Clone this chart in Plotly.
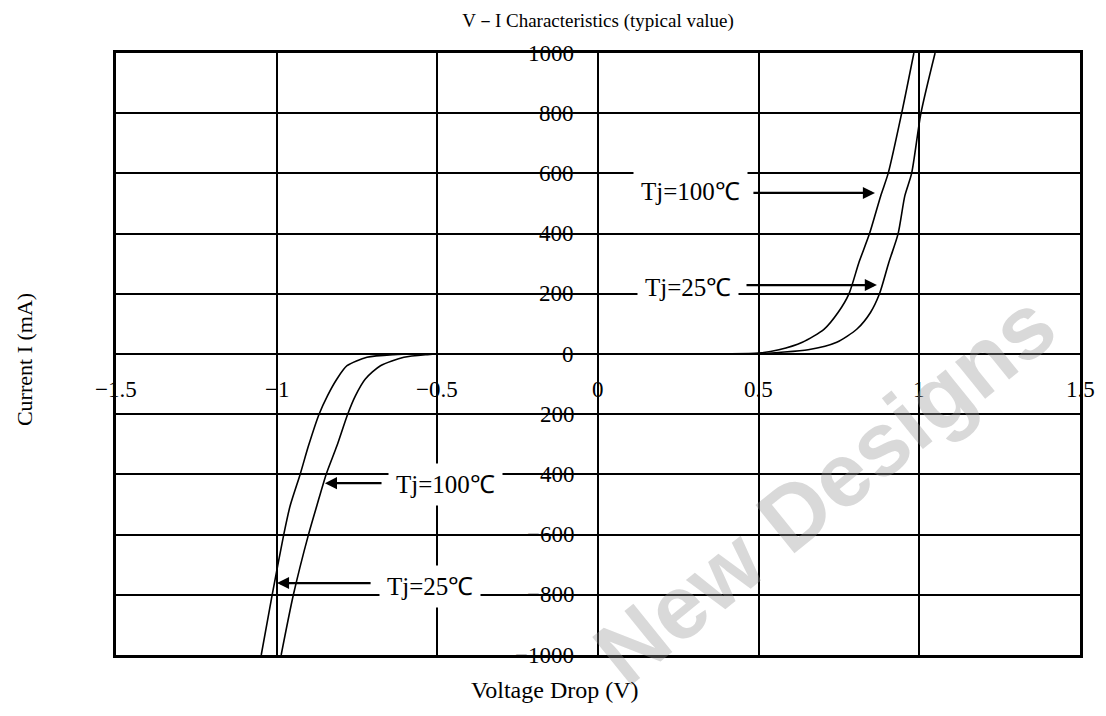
import plotly.graph_objects as go

# Tj = 25 degC curve (outer curve)
v_25 = [-1.048, -1.014, -0.978, -0.958, -0.927, -0.901, -0.868, -0.842, -0.8125, -0.781,
        -0.719, -0.636, -0.55, 0.0, 0.5, 0.563, 0.654, 0.743, 0.806, 0.848, 0.876, 0.905,
        0.934, 0.955, 0.976, 1.005, 1.049]
i_25 = [-1000, -800, -600, -504, -400, -305, -200, -139, -83, -39,
        -11, -2, 0, 0, 0, 5, 14, 39, 83, 138, 200, 304,
        400, 526, 600, 800, 1000]

# Tj = 100 degC curve (inner curve)
v_100 = [-0.986, -0.948, -0.901, -0.875, -0.846, -0.8125, -0.779, -0.755, -0.724, -0.677,
         -0.604, -0.531, -0.5, 0.0, 0.5, 0.563, 0.636, 0.704, 0.747, 0.781, 0.812, 0.845,
         0.88, 0.903, 0.945, 0.983]
i_100 = [-1000, -800, -600, -504, -400, -305, -200, -139, -83, -39,
         -11, -2, 0, 0, 3, 14, 39, 83, 138, 200, 304, 400,
         526, 600, 800, 1000]

x_ticks = [-1.5, -1.0, -0.5, 0.0, 0.5, 1.0, 1.5]
x_ticklabels = ["\u22121.5", "\u22121", "\u22120.5", "0", "0.5", "1", "1.5"]
y_ticks = [1000, 800, 600, 400, 200, 0, -200, -400, -600, -800, -1000]
y_ticklabels = ["1000", "800", "600", "400", "200", "0", "\u2212200", "\u2212400",
                "\u2212600", "\u2212800", "\u22121000"]

# curve labels: (text, label x, label y, arrow tail x, arrow tip x, arrow y)
labels = [
    ("Tj=100\u2103", 0.289, 541, 0.479, 0.862, 535),
    ("Tj=25\u2103", 0.280, 222, 0.4575, 0.868, 229),
    ("Tj=100\u2103", -0.476, -435, -0.669, -0.850, -429),
    ("Tj=25\u2103", -0.523, -774, -0.703, -0.999, -761),
]

SERIF = "Liberation Serif, Times New Roman, serif"

fig = go.Figure()
fig.add_trace(go.Scatter(x=v_25, y=i_25, mode="lines", name="Tj=25\u2103",
                         line=dict(color="black", width=1.6, shape="spline", smoothing=0.7)))
fig.add_trace(go.Scatter(x=v_100, y=i_100, mode="lines", name="Tj=100\u2103",
                         line=dict(color="black", width=1.6, shape="spline", smoothing=0.7)))

ann = []
for v, t in zip(x_ticks, x_ticklabels):
    ann.append(dict(x=v, y=0, xref="x", yref="y", text=t, showarrow=False,
                    xanchor="center", yanchor="middle", yshift=-35,
                    font=dict(family=SERIF, size=23, color="black")))
for v, t in zip(y_ticks, y_ticklabels):
    ann.append(dict(x=0, y=v, xref="x", yref="y", text=t, showarrow=False,
                    xanchor="right", yanchor="middle", xshift=-22,
                    font=dict(family=SERIF, size=23, color="black")))

for text, lx, ly, tail, tip, ay in labels:
    ann.append(dict(x=lx, y=ly, xref="x", yref="y", text=text, showarrow=False,
                    xanchor="center", yanchor="middle", bgcolor="white", borderpad=7,
                    font=dict(family=SERIF, size=25, color="black")))
    ann.append(dict(x=tip, y=ay, xref="x", yref="y", ax=tail, ay=ay, axref="x", ayref="y",
                    text="", showarrow=True, arrowhead=2, arrowsize=1.1, arrowwidth=2.2,
                    arrowcolor="black", standoff=0, startstandoff=0))

# watermark
ann.append(dict(x=0.735, y=0.275, xref="paper", yref="paper", text="<b>New Designs</b>",
                showarrow=False, textangle=-39, xanchor="center", yanchor="middle",
                font=dict(family="Liberation Sans, Arial, sans-serif", size=90,
                          color="rgba(150,150,150,0.36)")))

# axis titles
ann.append(dict(x=0.455, y=-0.058, xref="paper", yref="paper", text="Voltage Drop (V)",
                showarrow=False, xanchor="center", yanchor="middle",
                font=dict(family=SERIF, size=24, color="black")))
ann.append(dict(x=-0.0954, y=0.49, xref="paper", yref="paper", text="Current I (mA)",
                showarrow=False, textangle=-90, xanchor="center", yanchor="middle",
                font=dict(family=SERIF, size=22, color="black")))

fig.update_layout(
    width=1106, height=716,
    margin=dict(l=108, r=34, t=45, b=69, autoexpand=False),
    paper_bgcolor="white", plot_bgcolor="white",
    showlegend=False,
    title=dict(text="V\uff0dI Characteristics (typical value)", x=0.5335, xanchor="center",
               y=0.983, yanchor="middle",
               font=dict(family=SERIF, size=19, color="black")),
    font=dict(family=SERIF, color="black"),
    annotations=ann,
)

fig.update_xaxes(range=[-1.5, 1.5], tickvals=x_ticks, showticklabels=False,
                 showgrid=True, gridcolor="black", gridwidth=1.5,
                 zeroline=True, zerolinecolor="black", zerolinewidth=1.5,
                 showline=True, linecolor="black", linewidth=2.5, mirror=True, ticks="")
fig.update_yaxes(range=[-1000, 1000], tickvals=y_ticks, showticklabels=False,
                 showgrid=True, gridcolor="black", gridwidth=1.5,
                 zeroline=True, zerolinecolor="black", zerolinewidth=1.5,
                 showline=True, linecolor="black", linewidth=2.5, mirror=True, ticks="")

fig.write_html("out.html")
